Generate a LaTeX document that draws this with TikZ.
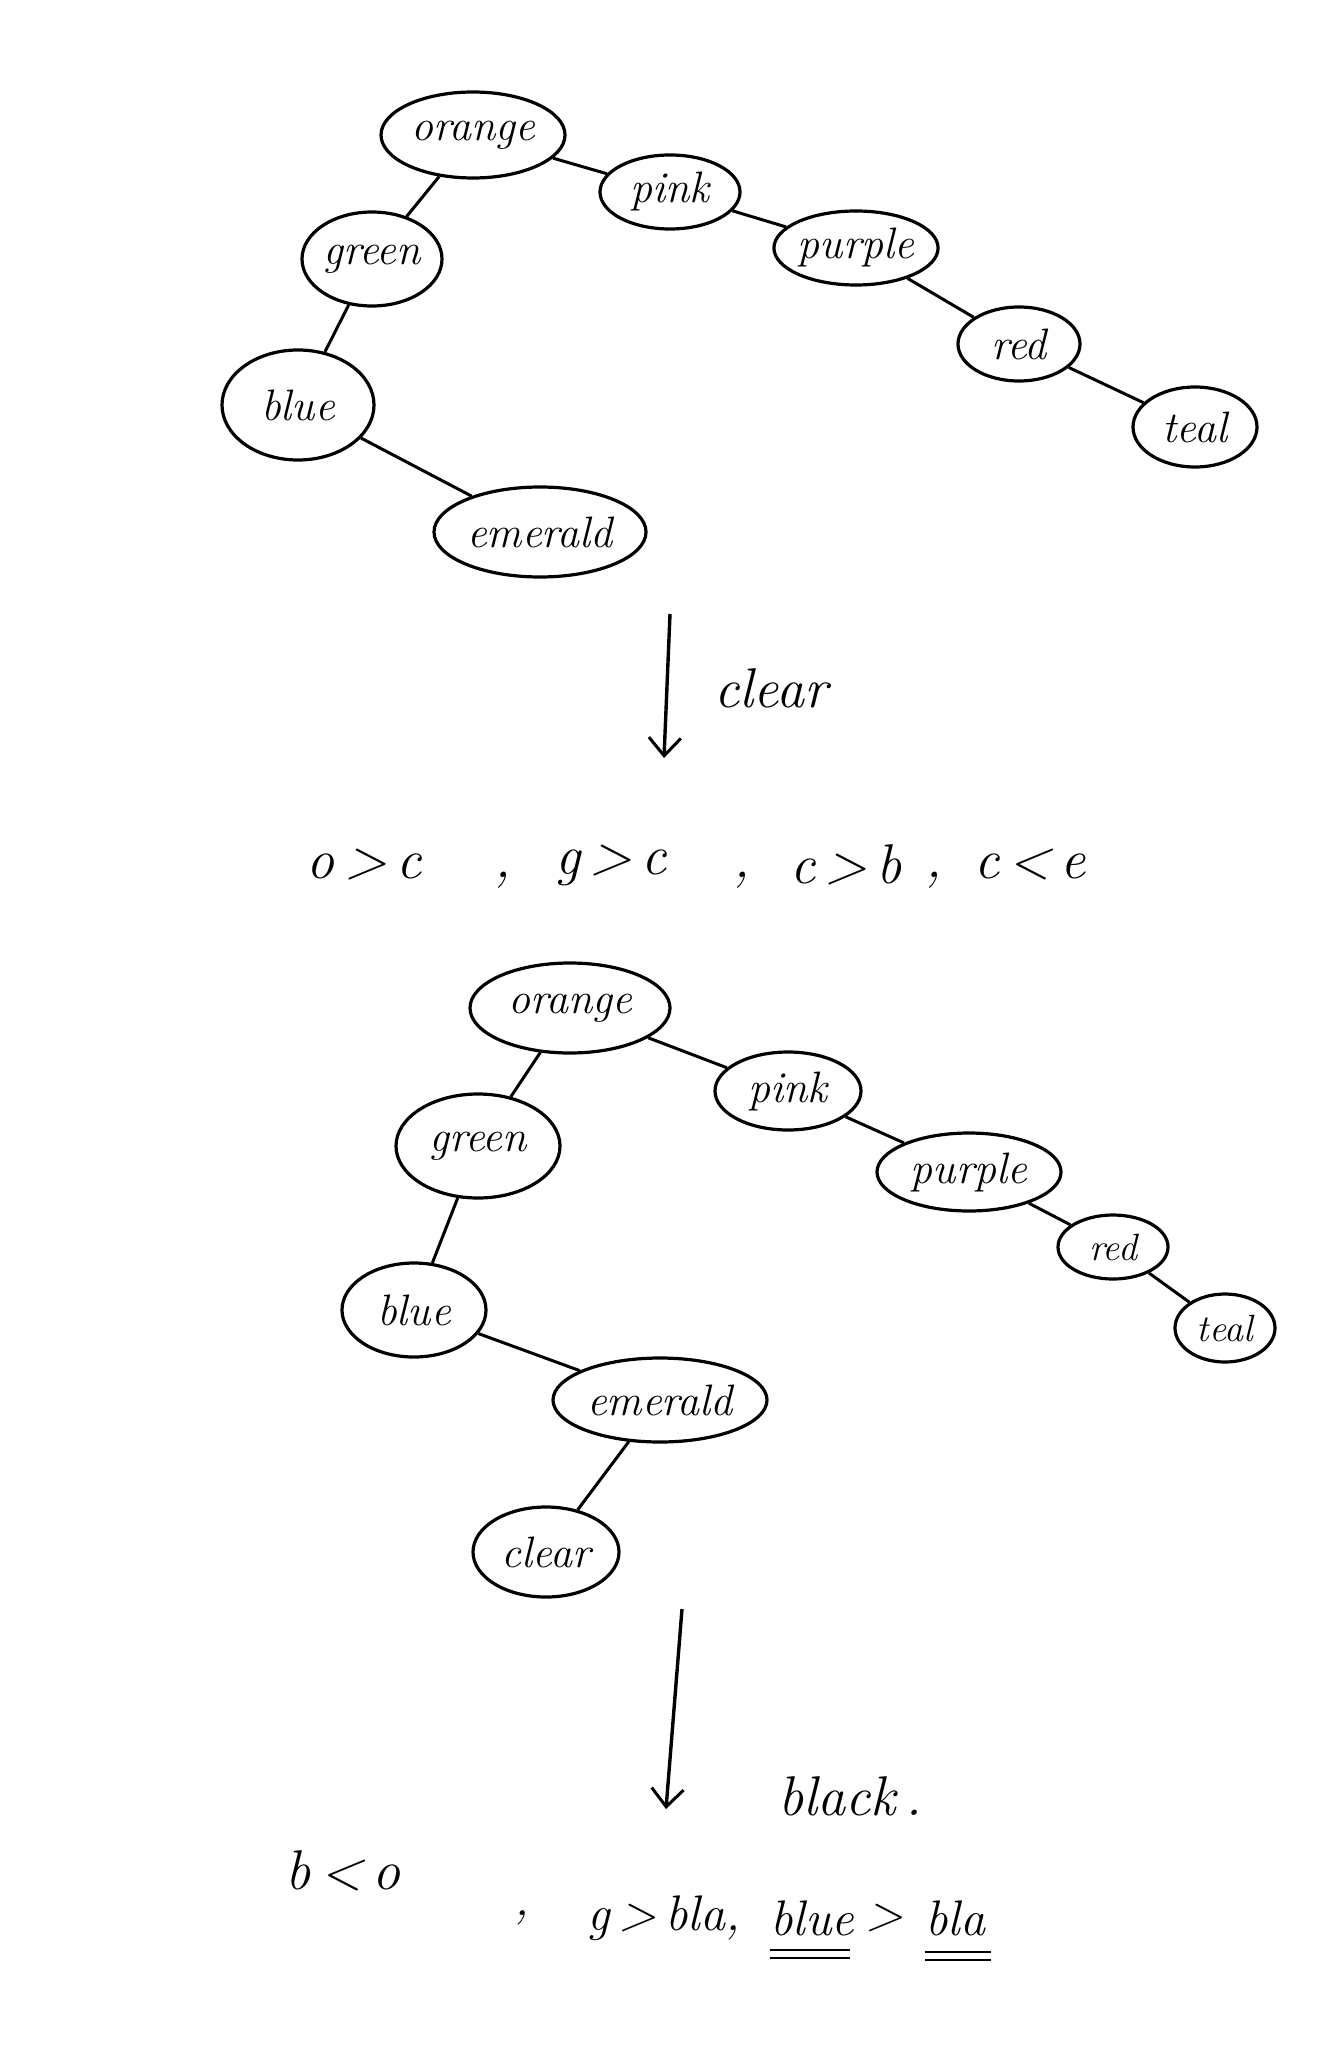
\documentclass[tikz,border=0pt]{standalone}
\usetikzlibrary{shapes.geometric,arrows.meta}
\begin{document}
\begin{tikzpicture}[x=0.5pt,y=-0.5pt,
  ell/.style={ellipse,draw,line width=1.6pt,inner sep=0pt,font=\fontsize{22}{26}\selectfont\itshape},
  edge/.style={line width=1.5pt},
  flow/.style={line width=1.7pt,-{Straight Barb[length=9pt,width=16pt,line width=1.5pt]}},
  txt/.style={inner sep=0pt,font=\fontsize{28}{32}\selectfont\itshape},
  btxt/.style={inner sep=0pt,font=\fontsize{25}{30}\selectfont\itshape},
  ul/.style={line width=1.3pt}]
\useasboundingbox[fill=white] (0,0) rectangle (1339,2048);
% top tree
\node[ell,minimum width=92pt,minimum height=43pt] (o1) at (473,135) {orange};
\node[ell,minimum width=70pt,minimum height=37pt] (p1) at (670,192) {pink};
\node[ell,minimum width=82pt,minimum height=37pt] (pu1) at (856,248) {purple};
\node[ell,minimum width=61pt,minimum height=37pt] (r1) at (1019,344) {red};
\node[ell,minimum width=62pt,minimum height=40pt] (t1) at (1195,427) {teal};
\node[ell,minimum width=70pt,minimum height=47pt] (g1) at (372,259) {green};
\node[ell,minimum width=76pt,minimum height=55pt] (b1) at (298,405) {blue};
\node[ell,minimum width=106pt,minimum height=45pt] (e1) at (540,532) {emerald};
\draw[edge] (o1) -- (g1);
\draw[edge] (g1) -- (b1);
\draw[edge] (b1) -- (e1);
\draw[edge] (o1) -- (p1);
\draw[edge] (p1) -- (pu1);
\draw[edge] (pu1) -- (r1);
\draw[edge] (r1) -- (t1);
% arrow 1
\coordinate (a1s) at (670,614);
\coordinate (a1e) at (664,758);
\draw[flow] (a1s) -- (a1e);
\node[txt] (lclear) at (771,688) {clear};
% comparison row
\node[txt] (c1) at (364,865) {o\,>\,c};
\node[txt] (k1) at (503,880) {,};
\node[txt] (c2) at (611,865) {g\,>\,c};
\node[txt] (k2) at (742,880) {,};
\node[txt] (c3) at (846,865) {c\,>\,b};
\node[txt] (k3) at (934,880) {,};
\node[txt] (c4) at (1030,865) {c\,<\,e};
% second tree
\node[ell,minimum width=100pt,minimum height=45pt] (o2) at (570,1008) {orange};
\node[ell,minimum width=73pt,minimum height=39pt] (p2) at (788,1091) {pink};
\node[ell,minimum width=92pt,minimum height=39pt] (pu2) at (969,1172) {purple};
\node[ell,minimum width=55pt,minimum height=32pt,font=\fontsize{19}{22}\selectfont\itshape] (r2) at (1113,1247) {red};
\node[ell,minimum width=50pt,minimum height=34pt,font=\fontsize{19}{22}\selectfont\itshape] (t2) at (1225,1328) {teal};
\node[ell,minimum width=82pt,minimum height=52pt] (g2) at (478,1146) {green};
\node[ell,minimum width=72pt,minimum height=47pt] (b2) at (414,1310) {blue};
\node[ell,minimum width=107pt,minimum height=42pt] (e2) at (660,1400) {emerald};
\node[ell,minimum width=73pt,minimum height=45pt] (cl2) at (546,1552) {clear};
\draw[edge] (o2) -- (g2);
\draw[edge] (g2) -- (b2);
\draw[edge] (b2) -- (e2);
\draw[edge] (e2) -- (cl2);
\draw[edge] (o2) -- (p2);
\draw[edge] (p2) -- (pu2);
\draw[edge] (pu2) -- (r2);
\draw[edge] (r2) -- (t2);
% arrow 2
\coordinate (a2s) at (682,1609);
\coordinate (a2e) at (666,1809);
\draw[flow] (a2s) -- (a2e);
\node[txt] (lblack) at (850,1796) {black\,.};
% bottom row
\node[txt] (d1) at (343,1871) {b\,<\,o};
\node[btxt] (m1) at (522,1918) {,};
\node[btxt] (d2) at (664,1918) {g\,>\,bla,};
\node[btxt] (d3) at (812,1918) {blue};
\node[btxt] (d4) at (885,1918) {>};
\node[btxt] (d5) at (955,1918) {bla};
\draw[ul] (d3.south west) ++(0,14) -- ++(80,0);
\draw[ul] (d3.south west) ++(0,22) -- ++(80,0);
\draw[ul] (d5.south west) ++(0,16) -- ++(66,0);
\draw[ul] (d5.south west) ++(0,24) -- ++(66,0);
\end{tikzpicture}
\end{document}
